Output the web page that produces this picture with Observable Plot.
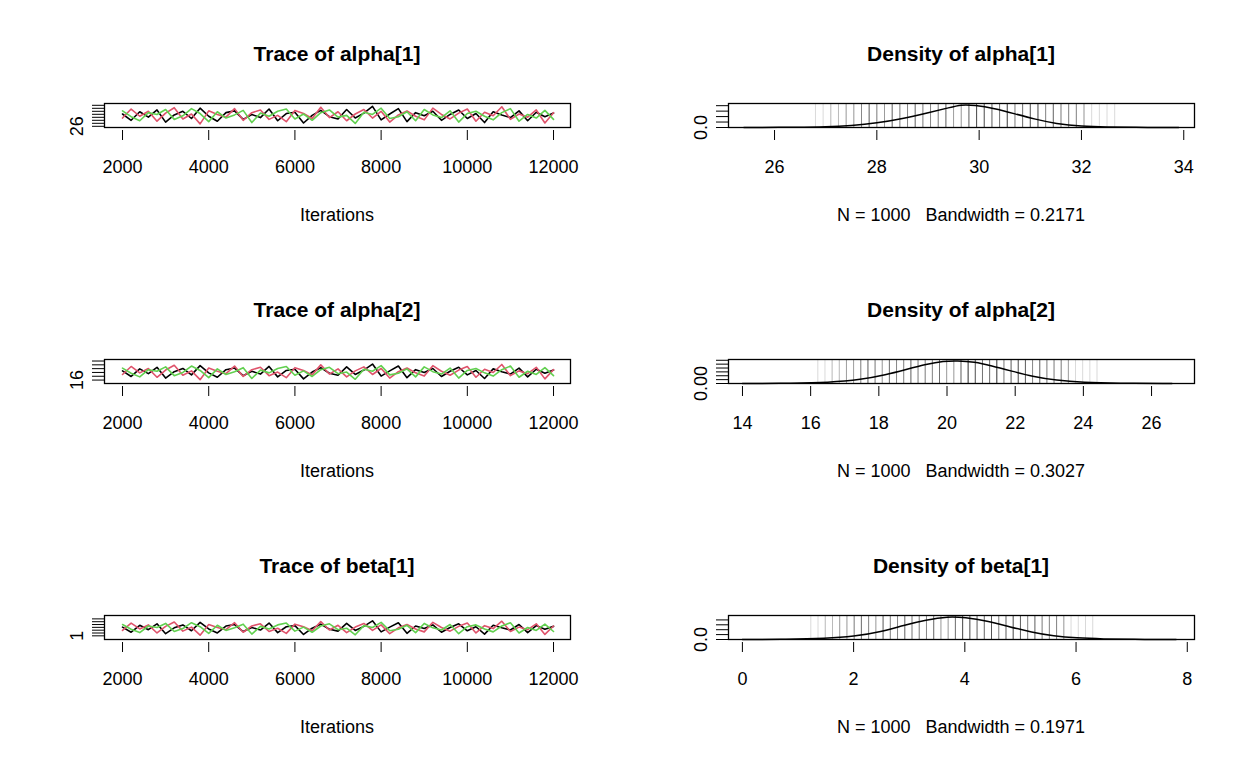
<!DOCTYPE html>
<html><head><meta charset="utf-8">
<script src="https://cdn.jsdelivr.net/npm/d3@7"></script>
<script src="https://cdn.jsdelivr.net/npm/@observablehq/plot@0.6"></script>
<style>
body{margin:0;background:#fff;font-family:"Liberation Sans",Arial,sans-serif;}
#root{position:relative;width:1248px;height:768px;}
.t{position:absolute;font-weight:bold;font-size:21px;transform:translateX(-50%);white-space:nowrap}
.l{position:absolute;font-size:18px;transform:translateX(-50%);white-space:pre}
.p{position:absolute}
</style></head><body><div id="root"></div>
<script>
const iterations = [2000,2200,2400,2600,2800,3000,3200,3400,3600,3800,4000,4200,4400,4600,4800,5000,5200,5400,5600,5800,6000,6200,6400,6600,6800,7000,7200,7400,7600,7800,8000,8200,8400,8600,8800,9000,9200,9400,9600,9800,10000,10200,10400,10600,10800,11000,11200,11400,11600,11800,12000];
const chain1 = [0.3,-1.1,0.8,-0.4,1.2,-1.5,0.1,0.9,-0.7,1.6,-0.2,-1.3,0.6,1.0,-0.9,0.2,-0.5,1.4,-1.2,0.4,0.7,-1.7,0.0,1.1,-0.3,-0.8,1.3,-0.6,0.5,2.0,-1.0,0.3,1.5,-1.4,0.6,-0.1,0.9,-1.1,0.2,1.2,-0.7,0.4,-1.6,0.8,0.1,-0.5,1.0,-1.2,0.7,-0.3,0.5];
const chain2 = [-0.6,1.4,-0.2,0.9,-1.3,0.5,1.7,-0.8,0.3,-1.9,1.0,0.2,-0.4,1.5,-1.1,0.6,1.2,-0.9,0.0,-1.4,1.1,0.4,-0.7,1.8,-0.5,0.8,-1.2,0.3,1.3,-0.6,0.9,-1.5,0.1,1.0,-0.2,-1.0,1.6,0.2,-0.8,0.5,1.4,-1.3,0.7,-0.1,1.9,-0.9,0.3,-0.4,1.2,-1.7,0.6];
const chain3 = [1.0,-0.3,-1.2,0.6,0.2,1.3,-0.9,-0.1,1.5,0.4,-1.4,0.8,-0.6,0.1,1.1,-1.6,0.5,-0.2,0.9,1.4,-0.8,0.3,-1.1,0.6,1.2,-0.4,0.0,-1.8,0.7,0.2,1.6,-0.7,-0.3,0.8,-1.2,1.3,0.1,-0.5,1.0,-1.5,0.4,0.9,-0.2,-1.0,0.6,1.5,-1.3,0.2,-0.6,1.1,-0.9];
const params = ["alpha[1]","alpha[2]","beta[1]"];
const means = [29.65, 20.2, 3.7];
const sds = [1.5, 2.1, 1.3];
const bandwidths = ["0.2171","0.3027","0.1971"];
const traceY = [[25.6,33.6],[14.2,26.8],[-0.3,8.2]];
const traceTicks = [[26,27,28,29,30,31,32,33],[16,18,20,22,24,26],[1,2,3,4,5,6,7]];
const densX = [[25.1,34.21],[13.59,27.26],[-0.25,8.13]];
const densXTicks = [[26,28,30,32,34],[14,16,18,20,22,24,26],[0,2,4,6,8]];
const densYMax = [0.44,0.31,0.49];
const densYTicks = [[0,0.1,0.2,0.3,0.4],[0,0.05,0.1,0.15,0.2,0.25,0.3],[0,0.1,0.2,0.3,0.4]];
const densFmt = [".1f",".2f",".1f"];
const dens = [
 [[25.4,0],[26.5,0.004],[27,0.012],[27.5,0.035],[28,0.08],[28.5,0.16],[29,0.27],[29.4,0.36],[29.65,0.42],[29.9,0.41],[30.3,0.35],[30.7,0.25],[31.1,0.15],[31.5,0.07],[32,0.02],[32.5,0.006],[33,0.002],[33.9,0]],
 [[14,0],[15.5,0.003],[16.5,0.012],[17.5,0.05],[18.2,0.11],[18.8,0.18],[19.4,0.25],[19.9,0.29],[20.3,0.295],[20.8,0.28],[21.3,0.23],[21.9,0.16],[22.5,0.09],[23.2,0.04],[24,0.013],[25,0.003],[26.6,0]],
 [[0,0],[0.8,0.003],[1.5,0.02],[2,0.06],[2.5,0.16],[2.9,0.29],[3.3,0.4],[3.7,0.47],[4.0,0.45],[4.4,0.38],[4.8,0.26],[5.2,0.15],[5.6,0.07],[6.0,0.03],[6.5,0.01],[7,0.003],[7.8,0]]
];
const chainColors = ["#000000","#DF536B","#61D04F"];

const root = document.getElementById("root");
function add(el,x,y){el.classList.add("p");el.style.left=x+"px";el.style.top=y+"px";root.appendChild(el);}
function txt(cls,s,x,y){const d=document.createElement("div");d.className=cls;d.textContent=s;d.style.left=x+"px";d.style.top=y+"px";root.appendChild(d);}
const st = {fontFamily:"Liberation Sans, Arial",fontSize:"18px",color:"#000",background:"transparent"};

params.forEach((p,r)=>{
  const top = 93 + 256*r;
  const m = means[r], s = sds[r];
  const rows = [];
  [chain1,chain2,chain3].forEach((c,ci)=>c.forEach((v,i)=>rows.push({it:iterations[i],v:m+s*v,chain:ci})));
  const tp = Plot.plot({
    width:624,height:110,marginLeft:104,marginRight:54,marginTop:10,marginBottom:76,style:st,
    x:{domain:[1582,12394],label:null}, y:{domain:traceY[r],label:null},
    marks:[
      Plot.line(rows,{x:"it",y:"v",z:"chain",stroke:d=>chainColors[d.chain],strokeWidth:1.6}),
      Plot.frame({stroke:"#000",strokeWidth:1.3}),
      Plot.axisX({ticks:[2000,4000,6000,8000,10000,12000],tickFormat:d3.format("d"),tickSize:10,tickPadding:20,fontSize:18,label:null,dy:3}),
      Plot.axisY({ticks:traceTicks[r],tickFormat:(d,i)=>i===0?String(d):"",tickSize:12,tickPadding:10,tickRotate:-90,fontSize:18,label:null,textAnchor:"middle"})
    ]});
  add(tp,0,top);
  txt("t","Trace of "+p,337,top-51);
  txt("l","Iterations",337,top+112);
  const rug = rows.map(d=>({v:d.v}));
  const dp = Plot.plot({
    width:624,height:110,marginLeft:104,marginRight:54,marginTop:10,marginBottom:76,style:st,
    x:{domain:densX[r],label:null}, y:{domain:[0,densYMax[r]],label:null},
    marks:[
      Plot.tickX(rug,{x:"v",y1:0,y2:0.004*densYMax[r]/0.44*10,stroke:"#000",strokeWidth:0.3,strokeOpacity:0.5}),
      Plot.line(dens[r],{x:d=>d[0],y:d=>d[1],stroke:"#000",strokeWidth:1.5,curve:"basis"}),
      Plot.frame({stroke:"#000",strokeWidth:1.3}),
      Plot.axisX({ticks:densXTicks[r],tickFormat:d3.format("d"),tickSize:10,tickPadding:20,fontSize:18,label:null,dy:3}),
      Plot.axisY({ticks:densYTicks[r],tickFormat:(d,i)=>i===0?d3.format(densFmt[r])(d):"",tickSize:12,tickPadding:10,tickRotate:-90,fontSize:18,label:null,textAnchor:"middle"})
    ]});
  add(dp,624,top);
  txt("t","Density of "+p,961,top-51);
  txt("l","N = 1000   Bandwidth = "+bandwidths[r],961,top+112);
});
</script></body></html>
